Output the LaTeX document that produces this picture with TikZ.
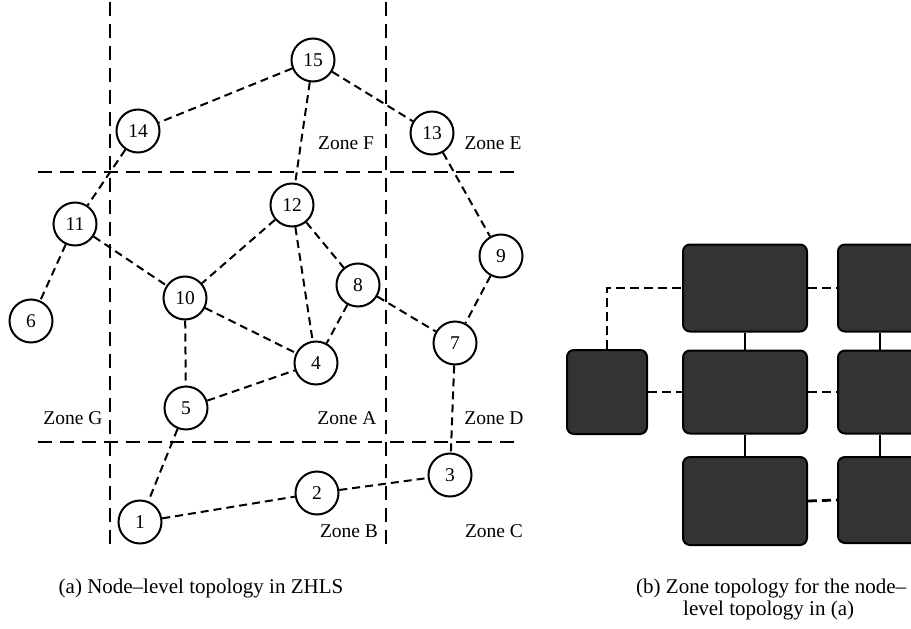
\documentclass[tikz,border=0pt]{standalone}
\usepackage{fontspec}
\setmainfont{Liberation Serif}
\begin{document}
\begin{tikzpicture}[x=1pt,y=-1pt,
  nd/.style={circle,draw=black,line width=2pt,minimum size=43pt,inner sep=0pt,font=\fontsize{19.5}{22}\selectfont},
  edge/.style={line width=2pt,dash pattern=on 8pt off 5pt},
  zline/.style={line width=2pt,dash pattern=on 14pt off 8pt},
  zlab/.style={font=\fontsize{19.5}{22}\selectfont,inner sep=0pt},
  captxt/.style={font=\fontsize{21}{24}\selectfont,inner sep=0pt},
  zbox/.style={rounded corners=7pt,draw=black,line width=2pt,fill=black!80},
  zedge/.style={line width=2.8pt,dash pattern=on 9pt off 5pt}]
\useasboundingbox (0,0) rectangle (911,629);
\clip (0,0) rectangle (911,629);
% zone boundaries
\coordinate (v1a) at (110,2);   \coordinate (v1b) at (110,545);
\coordinate (v2a) at (386,2);   \coordinate (v2b) at (386,547);
\coordinate (h1a) at (38,172);  \coordinate (h1b) at (514,172);
\coordinate (h2a) at (38,442);  \coordinate (h2b) at (514,442);
\draw[zline] (v1a) -- (v1b);
\draw[zline] (v2a) -- (v2b);
\draw[zline] (h1a) -- (h1b);
\draw[zline] (h2a) -- (h2b);
% nodes
\node[nd] (n15) at (313,60) {15};
\node[nd] (n14) at (138,131) {14};
\node[nd] (n13) at (432,133) {13};
\node[nd] (n12) at (292,205) {12};
\node[nd] (n11) at (75,224) {11};
\node[nd] (n9) at (501,256) {9};
\node[nd] (n8) at (358,285) {8};
\node[nd] (n10) at (185,298) {10};
\node[nd] (n6) at (31,321) {6};
\node[nd] (n7) at (455,343) {7};
\node[nd] (n4) at (316,363) {4};
\node[nd] (n5) at (186,408) {5};
\node[nd] (n3) at (450,475) {3};
\node[nd] (n2) at (317,493) {2};
\node[nd] (n1) at (140,522) {1};
% edges
\draw[edge] (n15) -- (n14);
\draw[edge] (n15) -- (n12);
\draw[edge] (n15) -- (n13);
\draw[edge] (n14) -- (n11);
\draw[edge] (n13) -- (n9);
\draw[edge] (n12) -- (n10);
\draw[edge] (n12) -- (n4);
\draw[edge] (n12) -- (n8);
\draw[edge] (n11) -- (n6);
\draw[edge] (n11) -- (n10);
\draw[edge] (n10) -- (n4);
\draw[edge] (n10) -- (n5);
\draw[edge] (n8) -- (n4);
\draw[edge] (n8) -- (n7);
\draw[edge] (n9) -- (n7);
\draw[edge] (n7) -- (n3);
\draw[edge] (n5) -- (n4);
\draw[edge] (n5) -- (n1);
\draw[edge] (n1) -- (n2);
\draw[edge] (n2) -- (n3);
% zone labels
\node[zlab] (zF) at (346,143) {Zone F};
\node[zlab] (zE) at (493,143) {Zone E};
\node[zlab] (zG) at (73,418) {Zone G};
\node[zlab] (zA) at (347,418) {Zone A};
\node[zlab] (zD) at (494,418) {Zone D};
\node[zlab] (zB) at (349,531) {Zone B};
\node[zlab] (zC) at (494,531) {Zone C};
\node[captxt] (capa) at (201,588) {(a) Node--level topology in ZHLS};
% right panel
\node[zbox,minimum width=80pt,minimum height=84pt] (bG) at (607,392) {};
\node[zbox,minimum width=124pt,minimum height=87pt] (bF) at (745,288) {};
\node[zbox,minimum width=124pt,minimum height=83pt] (bA) at (745,392) {};
\node[zbox,minimum width=124pt,minimum height=88pt] (bB) at (745,501) {};
\node[zbox,minimum width=90pt,minimum height=87pt,anchor=west] (bE) at (837,288) {};
\node[zbox,minimum width=90pt,minimum height=83pt,anchor=west] (bD) at (837,392) {};
\node[zbox,minimum width=90pt,minimum height=86pt,anchor=west] (bC) at (837,500) {};
\coordinate (corner) at (bG.north |- bF.west);
\draw[zedge] (bG.north) -- (corner) -- (bF.west);
\draw[zedge] (bG.east) -- (bA.west);
\draw[zedge] (bF.east) -- (bE.west);
\draw[zedge] (bA.east) -- (bD.west);
\draw[zedge] (bB.east) -- (bC.west);
\draw[line width=2.8pt] (bF.south) -- (bA.north);
\draw[line width=2.8pt] (bA.south) -- (bB.north);
\draw[line width=2.8pt] ([xshift=43pt]bE.south west) -- ([xshift=43pt]bD.north west);
\draw[line width=2.8pt] ([xshift=43pt]bD.south west) -- ([xshift=43pt]bC.north west);
\node[captxt,anchor=west] (capb1) at (636,588) {(b) Zone topology for the node--};
\node[captxt,anchor=west] (capb2) at (683,610) {level topology in (a)};
\end{tikzpicture}
\end{document}
